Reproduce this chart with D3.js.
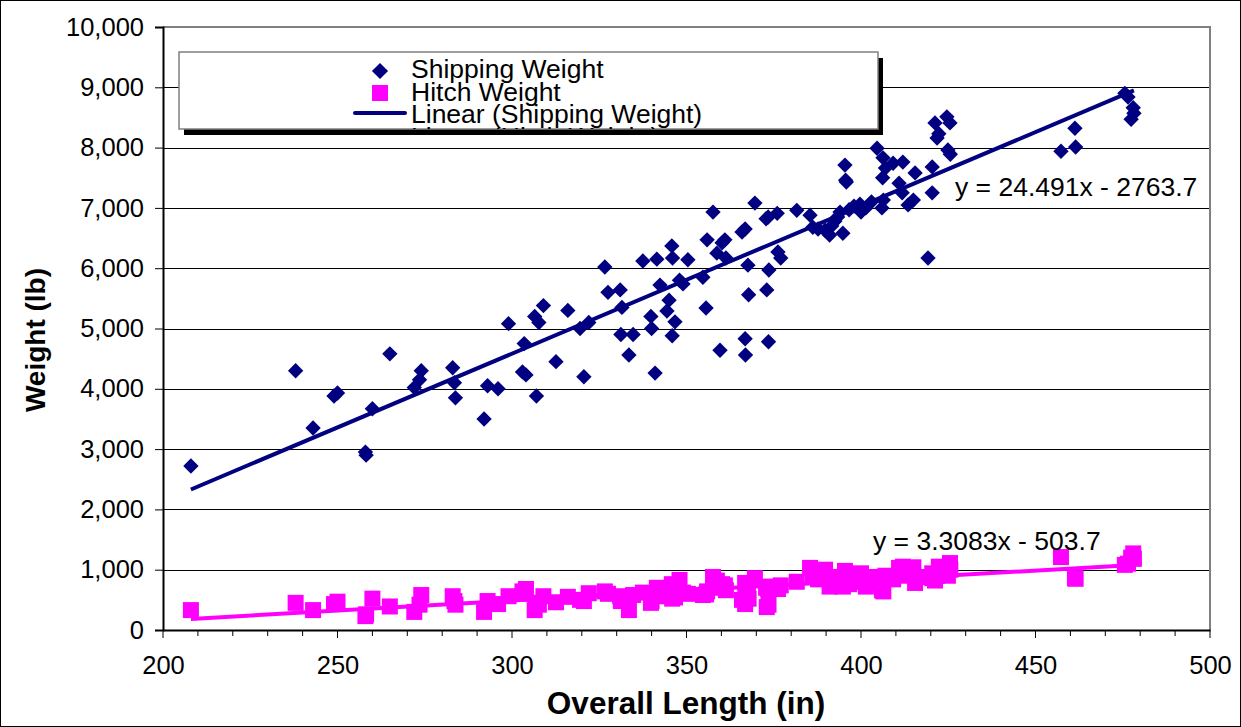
<!DOCTYPE html>
<html>
<head>
<meta charset="utf-8">
<script src="https://cdn.jsdelivr.net/npm/d3@7"></script>
<style>
  body { margin: 0; background: #fff; }
  svg text { font-family: "Liberation Sans", Arial, sans-serif; }
</style>
</head>
<body>
<div id="chart"></div>
<script>
// trailers: overall length (in), shipping weight (lb), hitch weight (lb)
var lengthIn = [208, 238, 243, 249, 250, 258, 258.2, 260, 265, 272, 273.5, 274,
  283, 283.5, 283.8, 292, 293, 296, 299, 303, 304, 303.5, 306.5, 307.7, 307, 309,
  312.6, 316, 319.5, 322, 320.6, 326.6, 327.5, 331, 331.5, 331.2, 333.5, 334.7,
  337.5, 339.8, 340, 341, 341.5, 342.4, 344.4, 345, 345.8, 346, 345.9, 346.7,
  348, 349, 350.4, 354.7, 355.9, 355.6, 357.6, 358.7, 360.2, 359.6, 361, 361.3,
  365.9, 366.8, 367.6, 367.8, 366.8, 366.9, 369.6, 372.8, 373.4, 373.6, 373, 373.5,
  376, 376.2, 377, 381.6, 385.4, 386.2, 387.7, 389.7, 391, 391.6, 392.5, 393.3,
  394, 394.8, 395.4, 395.6, 395.8, 396.6, 398, 399.7, 400, 401.4, 403, 404.6,
  406.3, 407, 406.2, 406, 406.4, 409.2, 410.9, 411.8, 412, 413.5, 415, 415.5,
  420.4, 420.4, 419.2, 421.2, 421.8, 422.3, 424.6, 425.5, 424.9, 425.6,
  457.3, 461.3, 461.5, 475.6, 476.5, 478, 478.2, 477.4];
var shippingLb = [2720, 4300, 3350, 3880, 3930, 2950, 2900, 3670, 4580, 4020, 4150, 4300,
  4350, 4100, 3850, 3500, 4050, 4000, 5080, 4280, 4230, 4750, 5200, 5100, 3880, 5380,
  4450, 5300, 5000, 5100, 4200, 6020, 5600, 5640, 5350, 4900, 4560, 4900,
  6120, 5200, 5000, 4260, 6150, 5720, 5290, 5470, 6370, 6170, 4880, 5110,
  5800, 5740, 6140, 5850, 6470, 5340, 6930, 6250, 6420, 4640, 6470, 6170,
  6600, 6650, 6050, 5560, 4830, 4560, 7080, 6820, 6850, 5970, 5640, 4780,
  6910, 6270, 6170, 6960, 6880, 6680, 6650, 6630, 6550, 6700, 6780, 6850,
  6930, 6580, 7710, 7460, 7430, 6970, 7030, 7060, 6930, 7000, 7100, 7990,
  7830, 7660, 7500, 7000, 7130, 7740, 7410, 7250, 7760, 7050, 7130, 7580,
  7680, 7250, 6170, 8410, 8160, 8230, 8510, 8410, 7960, 7890,
  7940, 8320, 8010, 8900, 8840, 8660, 8570, 8470];
var hitchLb = [330, 450, 330, 430, 470, 230, 260, 520, 390, 300, 420, 580,
  560, 480, 420, 300, 480, 430, 560, 640, 680, 600, 330, 420, 450, 560,
  460, 550, 500, 610, 480, 640, 600, 560, 520, 480, 330, 580,
  620, 450, 480, 560, 700, 640, 610, 560, 760, 690, 520, 540,
  830, 620, 600, 580, 640, 590, 880, 820, 760, 700, 740, 660,
  500, 780, 650, 520, 430, 520, 860, 700, 680, 720, 380, 420,
  700, 680, 740, 800, 1030, 920, 840, 1000, 720, 760, 800, 740,
  880, 720, 980, 920, 820, 760, 800, 920, 940, 720, 780, 880,
  820, 900, 760, 660, 640, 840, 1030, 900, 1050, 980, 1040, 780,
  860, 940, 880, 820, 900, 1050, 960, 1110, 900, 1000,
  1210, 860, 850, 1080, 1100, 1270, 1180, 1200];

// trendline coefficients as printed on the chart: [slope, intercept]
var shipTrend = [24.491, -2763.7];
var hitchTrend = [3.3083, -503.7];

var xTicks = [200, 250, 300, 350, 400, 450, 500];
var yTicks = [0, 1000, 2000, 3000, 4000, 5000, 6000, 7000, 8000, 9000, 10000];

var legendLabels = ['Shipping Weight', 'Hitch Weight', 'Linear (Shipping Weight)', 'Linear (Hitch Weight)'];

var navy = '#000080', pink = '#FF00FF';
var W = 1241, H = 727;
var plotL = 163, plotR = 1210, plotT = 27, plotB = 630;

var svg = d3.select('#chart').append('svg')
  .attr('width', W).attr('height', H);

svg.append('rect').attr('x', 0.5).attr('y', 0.5).attr('width', W - 1).attr('height', H - 1)
  .attr('fill', '#fff').attr('stroke', '#000').attr('stroke-width', 1);

var x = d3.scaleLinear().domain([200, 500]).range([plotL, plotR]);
var y = d3.scaleLinear().domain([0, 10000]).range([plotB, plotT]);

// gridlines
svg.append('g').selectAll('line').data(yTicks.slice(1, -1)).enter().append('line')
  .attr('x1', plotL).attr('x2', plotR)
  .attr('y1', function (d) { return Math.round(y(d)) + 0.5; })
  .attr('y2', function (d) { return Math.round(y(d)) + 0.5; })
  .attr('stroke', '#000').attr('stroke-width', 1);

// plot border (top / right)
svg.append('path')
  .attr('d', 'M' + plotL + ',' + plotT + 'H' + plotR + 'V' + plotB)
  .attr('fill', 'none').attr('stroke', '#808080').attr('stroke-width', 2);

// axes
var yAxis = d3.axisLeft(y).tickValues(yTicks).tickSize(8).tickPadding(11)
  .tickFormat(d3.format(','));
var gy = svg.append('g').attr('transform', 'translate(' + plotL + ',0)').call(yAxis);
gy.select('.domain').attr('stroke', '#000').attr('stroke-width', 2);
gy.selectAll('.tick line').attr('stroke', '#000');
gy.selectAll('text').attr('font-size', 25.5).attr('fill', '#000')
  .style('font-family', '"Liberation Sans", Arial, sans-serif');

var xMinor = d3.range(200, 501, 10);
svg.append('g').attr('transform', 'translate(0,' + plotB + ')')
  .selectAll('line').data(xMinor).enter().append('line')
  .attr('x1', function (d) { return x(d); }).attr('x2', function (d) { return x(d); })
  .attr('y1', 0).attr('y2', function (d) { return d % 50 === 0 ? 8 : 6; })
  .attr('stroke', '#000');
var xAxis = d3.axisBottom(x).tickValues(xTicks).tickSize(0).tickPadding(26);
var gx = svg.append('g').attr('transform', 'translate(0,' + plotB + ')').call(xAxis);
gx.select('.domain').attr('stroke', '#000').attr('stroke-width', 2);
gx.selectAll('text').attr('font-size', 25.5).attr('fill', '#000')
  .style('font-family', '"Liberation Sans", Arial, sans-serif');

// axis titles
svg.append('text').attr('x', 686).attr('y', 714).attr('text-anchor', 'middle')
  .attr('font-size', 31.5).attr('font-weight', 'bold').text('Overall Length (in)');
svg.append('text').attr('transform', 'translate(45,340) rotate(-90)')
  .attr('text-anchor', 'middle').attr('font-size', 28).attr('font-weight', 'bold')
  .text('Weight (lb)');

var pts = lengthIn.map(function (d, i) { return { len: d, ship: shippingLb[i], hitch: hitchLb[i] }; });

// hitch squares
svg.append('g').selectAll('rect').data(pts).enter().append('rect')
  .attr('x', function (d) { return x(d.len) - 8; })
  .attr('y', function (d) { return y(d.hitch) - 8; })
  .attr('width', 16).attr('height', 16).attr('fill', pink);

// shipping diamonds
var diamond = d3.symbol().type(d3.symbolSquare).size(118);
svg.append('g').selectAll('path').data(pts).enter().append('path')
  .attr('d', diamond)
  .attr('transform', function (d) { return 'translate(' + x(d.len) + ',' + y(d.ship) + ') rotate(45)'; })
  .attr('fill', navy);

// trendlines
var xr = d3.extent(lengthIn);
var trendLine = d3.line().x(function (d) { return x(d[0]); }).y(function (d) { return y(d[1]); });
function trendPts(c) { return xr.map(function (v) { return [v, c[0] * v + c[1]]; }); }
svg.append('path').datum(trendPts(shipTrend)).attr('d', trendLine)
  .attr('fill', 'none').attr('stroke', navy).attr('stroke-width', 4);
svg.append('path').datum(trendPts(hitchTrend)).attr('d', trendLine)
  .attr('fill', 'none').attr('stroke', pink).attr('stroke-width', 4);

// equations
svg.append('text').attr('x', 955).attr('y', 196).attr('font-size', 26.5)
  .text('y = ' + shipTrend[0] + 'x - ' + Math.abs(shipTrend[1]));
svg.append('text').attr('x', 873).attr('y', 550).attr('font-size', 26.5)
  .text('y = ' + hitchTrend[0] + 'x - ' + Math.abs(hitchTrend[1]));

// legend
var lg = { x: 179, y: 52, w: 699, h: 77 };
svg.append('rect').attr('x', lg.x + 5).attr('y', lg.y + 6).attr('width', lg.w).attr('height', lg.h)
  .attr('fill', '#000');
svg.append('rect').attr('x', lg.x).attr('y', lg.y).attr('width', lg.w).attr('height', lg.h)
  .attr('fill', '#fff').attr('stroke', '#808080').attr('stroke-width', 1.5);
svg.append('clipPath').attr('id', 'legclip').append('rect')
  .attr('x', lg.x).attr('y', lg.y).attr('width', lg.w).attr('height', lg.h);
var lgi = svg.append('g').attr('clip-path', 'url(#legclip)');
lgi.append('path').attr('d', d3.symbol().type(d3.symbolSquare).size(130))
  .attr('transform', 'translate(380,71) rotate(45)').attr('fill', navy);
lgi.append('rect').attr('x', 372).attr('y', 85).attr('width', 16).attr('height', 16).attr('fill', pink);
lgi.append('line').attr('x1', 355).attr('x2', 405).attr('y1', 113).attr('y2', 113)
  .attr('stroke', navy).attr('stroke-width', 4).attr('stroke-linecap', 'round');
lgi.selectAll('text.lbl').data(legendLabels).enter().append('text').attr('class', 'lbl')
  .attr('x', 411).attr('y', function (d, i) { return 78 + i * 22.7; })
  .attr('font-size', 26.5).text(function (d) { return d; });
</script>
</body>
</html>
